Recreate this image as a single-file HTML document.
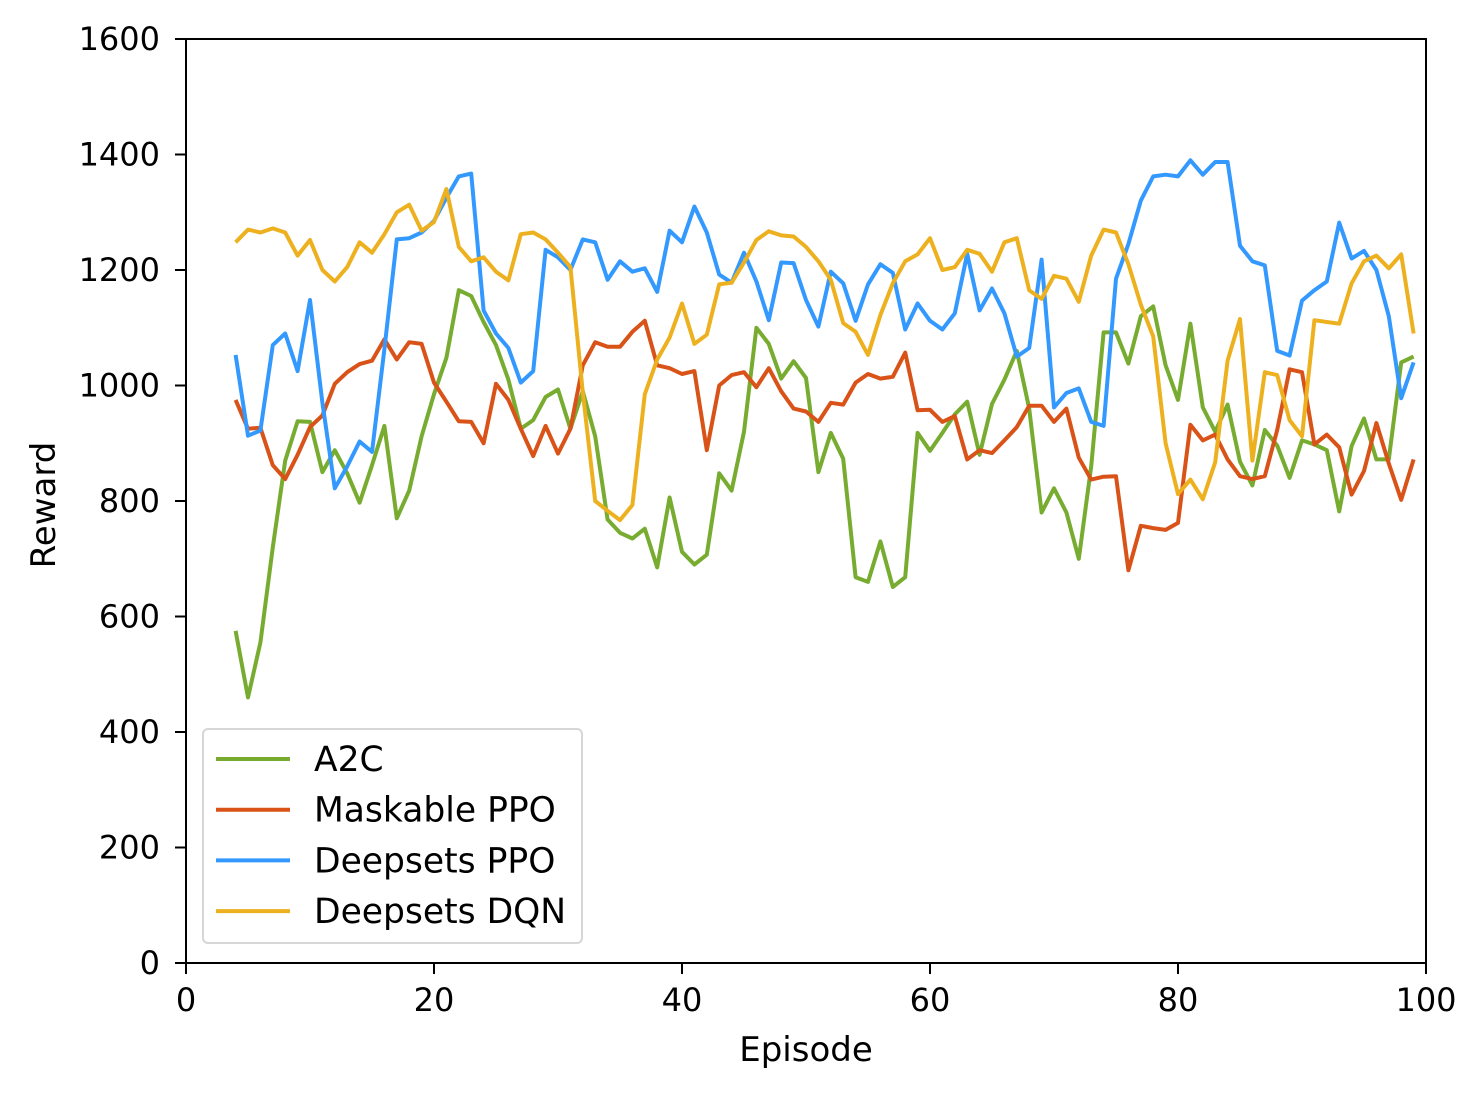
<!DOCTYPE html>
<html><head><meta charset="utf-8"><style>
html,body{margin:0;padding:0;background:#fff;}
svg{display:block;font-family:"DejaVu Sans","Liberation Sans",sans-serif;}
</style></head><body>
<svg id="chart" width="1483" height="1093" viewBox="0 0 1483 1093" xmlns="http://www.w3.org/2000/svg">
<rect x="0" y="0" width="1483" height="1093" fill="#fff"/>
<g id="series"></g>
<rect x="186" y="39" width="1240" height="924" fill="none" stroke="#000" stroke-width="2"/>
<g id="axes"></g>
<text x="806" y="1061" font-size="34" text-anchor="middle">Episode</text>
<text x="55" y="505" font-size="34" text-anchor="middle" transform="rotate(-90 55 505)">Reward</text>
<g id="legend"></g>
</svg>
<script>
const episodes = [];
for (let e = 4; e <= 99; e++) episodes.push(e);
const seriesNames = ["A2C","Maskable PPO","Deepsets PPO","Deepsets DQN"];
const a2c = [575,460,555,720,870,938,937,850,888,848,797,862,930,770,818,912,985,1048,1165,1155,1110,1070,1010,925,940,980,993,925,990,912,768,745,735,752,685,806,712,690,707,848,818,920,1100,1072,1012,1042,1013,850,918,873,668,660,730,651,668,918,887,918,950,972,880,968,1010,1060,960,780,822,780,700,860,1092,1092,1038,1120,1137,1035,975,1107,962,920,967,868,827,923,896,840,905,898,888,782,895,943,872,872,1040,1050];
const maskablePPO = [975,925,927,862,838,880,928,948,1003,1023,1037,1043,1080,1045,1075,1072,1005,972,938,937,900,1003,975,925,878,930,882,925,1035,1075,1067,1067,1093,1112,1035,1030,1020,1025,888,1000,1018,1023,997,1030,990,960,955,937,970,967,1005,1020,1012,1015,1057,957,958,937,947,872,888,883,905,928,965,965,937,960,875,837,842,843,680,757,753,750,762,932,905,915,872,843,838,843,923,1028,1023,898,915,893,811,852,935,865,802,872];
const deepsetsPPO = [1053,913,922,1070,1090,1025,1148,970,822,860,903,885,1063,1253,1255,1265,1285,1325,1362,1367,1130,1090,1065,1005,1025,1235,1222,1200,1253,1248,1183,1215,1197,1203,1162,1268,1248,1310,1265,1192,1178,1230,1180,1113,1213,1212,1148,1102,1197,1177,1112,1175,1210,1195,1097,1142,1112,1097,1125,1228,1130,1168,1125,1050,1065,1218,962,987,995,937,930,1185,1245,1320,1362,1365,1362,1390,1365,1387,1387,1242,1215,1208,1060,1052,1147,1165,1180,1282,1220,1233,1200,1120,978,1040];
const deepsetsDQN = [1248,1270,1265,1272,1265,1225,1252,1200,1180,1205,1248,1230,1262,1300,1313,1268,1283,1340,1240,1215,1222,1197,1182,1262,1265,1253,1230,1205,988,800,783,767,793,985,1045,1083,1142,1072,1088,1175,1178,1213,1252,1267,1260,1258,1240,1215,1183,1108,1093,1053,1122,1177,1215,1227,1255,1200,1205,1235,1228,1197,1248,1255,1165,1150,1190,1185,1145,1225,1270,1265,1210,1140,1085,900,812,837,803,867,1043,1115,870,1023,1018,940,912,1113,1110,1107,1177,1215,1225,1203,1227,1090];
const xTicks = [0,20,40,60,80,100];
const yTicks = [0,200,400,600,800,1000,1200,1400,1600];

const NS = "http://www.w3.org/2000/svg";
const X0=186, X1=1426, Y0=963, Y1=39;
const xs = v => X0 + (v-0)/(100-0)*(X1-X0);
const ys = v => Y0 - (v-0)/(1600-0)*(Y0-Y1);
const colors = ["#77ac30","#d95319","#3399ff","#edb120"];
const allSeries = [a2c, maskablePPO, deepsetsPPO, deepsetsDQN];
const slugs = ["a2c","maskable-ppo","deepsets-ppo","deepsets-dqn"];

const sg = document.getElementById("series");
allSeries.forEach((vals, i) => {
  const p = document.createElementNS(NS, "polyline");
  p.setAttribute("points", vals.map((v,k)=>xs(episodes[k]).toFixed(1)+","+ys(v).toFixed(1)).join(" "));
  p.setAttribute("fill","none");
  p.setAttribute("stroke",colors[i]);
  p.setAttribute("stroke-width","4");
  p.setAttribute("stroke-linejoin","round");
  
  
  sg.appendChild(p);
});

const ag = document.getElementById("axes");
xTicks.forEach(t => {
  const l = document.createElementNS(NS,"line");
  l.setAttribute("x1",xs(t)); l.setAttribute("x2",xs(t));
  l.setAttribute("y1",Y0); l.setAttribute("y2",Y0+11);
  l.setAttribute("stroke","#000"); l.setAttribute("stroke-width","2");
  
  
  ag.appendChild(l);
  const tx = document.createElementNS(NS,"text");
  tx.setAttribute("x",xs(t)); tx.setAttribute("y",Y0+48);
  tx.setAttribute("font-size","32"); tx.setAttribute("text-anchor","middle");
  tx.textContent = t;
  
  
  ag.appendChild(tx);
});
yTicks.forEach(t => {
  const l = document.createElementNS(NS,"line");
  l.setAttribute("x1",X0-11); l.setAttribute("x2",X0);
  l.setAttribute("y1",ys(t)); l.setAttribute("y2",ys(t));
  l.setAttribute("stroke","#000"); l.setAttribute("stroke-width","2");
  
  
  ag.appendChild(l);
  const tx = document.createElementNS(NS,"text");
  tx.setAttribute("x",X0-26); tx.setAttribute("y",ys(t)+11);
  tx.setAttribute("font-size","32"); tx.setAttribute("text-anchor","end");
  tx.textContent = t;
  
  
  ag.appendChild(tx);
});

const lg = document.getElementById("legend");
const box = document.createElementNS(NS,"rect");
box.setAttribute("x","203"); box.setAttribute("y","729");
box.setAttribute("width","379"); box.setAttribute("height","214");
box.setAttribute("rx","5"); box.setAttribute("fill","#fff");
box.setAttribute("fill-opacity","0.8"); box.setAttribute("stroke","#d6d6d6"); box.setAttribute("stroke-width","2");


lg.appendChild(box);
seriesNames.forEach((n,i) => {
  const y = 759 + i*50.7;
  const l = document.createElementNS(NS,"line");
  l.setAttribute("x1","216"); l.setAttribute("x2","290");
  l.setAttribute("y1",y); l.setAttribute("y2",y);
  l.setAttribute("stroke",colors[i]); l.setAttribute("stroke-width","4");
  
  
  lg.appendChild(l);
  const tx = document.createElementNS(NS,"text");
  tx.setAttribute("x","314"); tx.setAttribute("y",y+12);
  tx.setAttribute("font-size","34.5");
  tx.textContent = n;
  
  
  lg.appendChild(tx);
});
</script>
</body></html>
